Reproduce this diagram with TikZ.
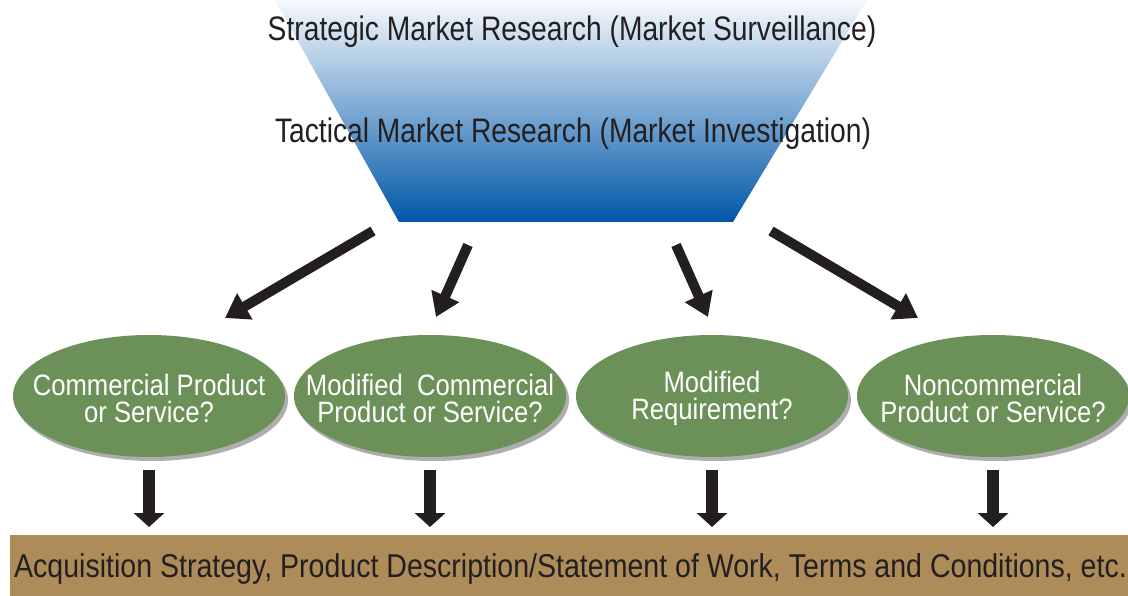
\documentclass[tikz,border=0pt]{standalone}
\usepackage{fontspec}
\setmainfont{Liberation Sans}[FakeStretch=0.83]
\newfontfamily\headfont{Liberation Sans}[FakeStretch=0.83]
\newfontfamily\ovalfont{Liberation Sans}[FakeStretch=0.87]
\newfontfamily\barfont{Liberation Sans}[FakeStretch=0.865]
\usetikzlibrary{arrows.meta,shapes.geometric,shadows}
\definecolor{ink}{HTML}{231F20}
\definecolor{leaf}{HTML}{6C9158}
\definecolor{tan}{HTML}{AE8C5A}
\definecolor{funtop}{HTML}{F6F9FD}
\definecolor{funmid}{HTML}{B3CCE6}
\definecolor{funbot}{HTML}{0057A8}
\tikzset{
  heading/.style={font=\headfont\fontsize{34}{34}\selectfont, text=ink, anchor=base, inner sep=0pt},
  question/.style={ellipse, fill=leaf, minimum width=272pt, minimum height=122pt, inner sep=0pt,
    drop shadow={shadow xshift=3pt, shadow yshift=-4pt, fill=black!70, opacity=0.45}},
  qtext/.style={align=center, text=white, inner sep=0pt, font=\ovalfont\fontsize{29.5}{27}\selectfont},
  fanarrow/.style={line width=10pt, ink, -{Triangle[width=29pt,length=23pt]}},
  downarrow/.style={line width=12.5pt, ink, -{Triangle[width=30pt,length=14pt]}},
}
\begin{document}
\begin{tikzpicture}[x=1pt,y=-1pt]
\useasboundingbox (0,0) rectangle (1128,596);
% funnel
\shade[top color=funtop, middle color=funmid, bottom color=funbot]
  (275,0) -- (867,0) -- (733,222) -- (399,222) -- cycle;
\node[heading] (strategic) at (572,41) {Strategic Market Research (Market Surveillance)};
\node[heading] (tactical) at (573,143) {Tactical Market Research (Market Investigation)};
% questions
\node[question] (q1) at (149,396) {};
\node[question] (q2) at (430,396) {};
\node[question] (q3) at (712,396) {};
\node[question] (q4) at (993,396) {};
\node[qtext] (q1t) at (149,398) {Commercial Product\\or Service?};
\node[qtext] (q2t) at (430,398) {Modified\ \ Commercial\\Product or Service?};
\node[qtext] (q3t) at (712,398) {Modified\\Requirement?};
\node[qtext] (q4t) at (993,398) {Noncommercial\\Product or Service?};
% outcome bar
\node[fill=tan, minimum width=1118pt, minimum height=61pt, inner sep=0pt, anchor=north west] (bar) at (10,535) {};
\node[font=\barfont\fontsize{33}{33}\selectfont, text=ink, anchor=base, inner sep=0pt] (bartext) at (570.5,577)
  {Acquisition Strategy, Product Description/Statement of Work, Terms and Conditions, etc.};
% fan arrows
\coordinate (s1) at (373,231);
\coordinate (s2) at (468,245);
\coordinate (s3) at (676,245);
\coordinate (s4) at (771,231);
\coordinate (e1) at (225,318);
\coordinate (e2) at (436,317);
\coordinate (e3) at (708,317);
\coordinate (e4) at (918,318);
\draw[fanarrow] (s1) -- (e1);
\draw[fanarrow] (s2) -- (e2);
\draw[fanarrow] (s3) -- (e3);
\draw[fanarrow] (s4) -- (e4);
% down arrows
\foreach \q in {q1,q2,q3,q4}{
  \draw[downarrow] (\q.center |- 0,470) -- (\q.center |- 0,527);
}
\end{tikzpicture}
\end{document}
